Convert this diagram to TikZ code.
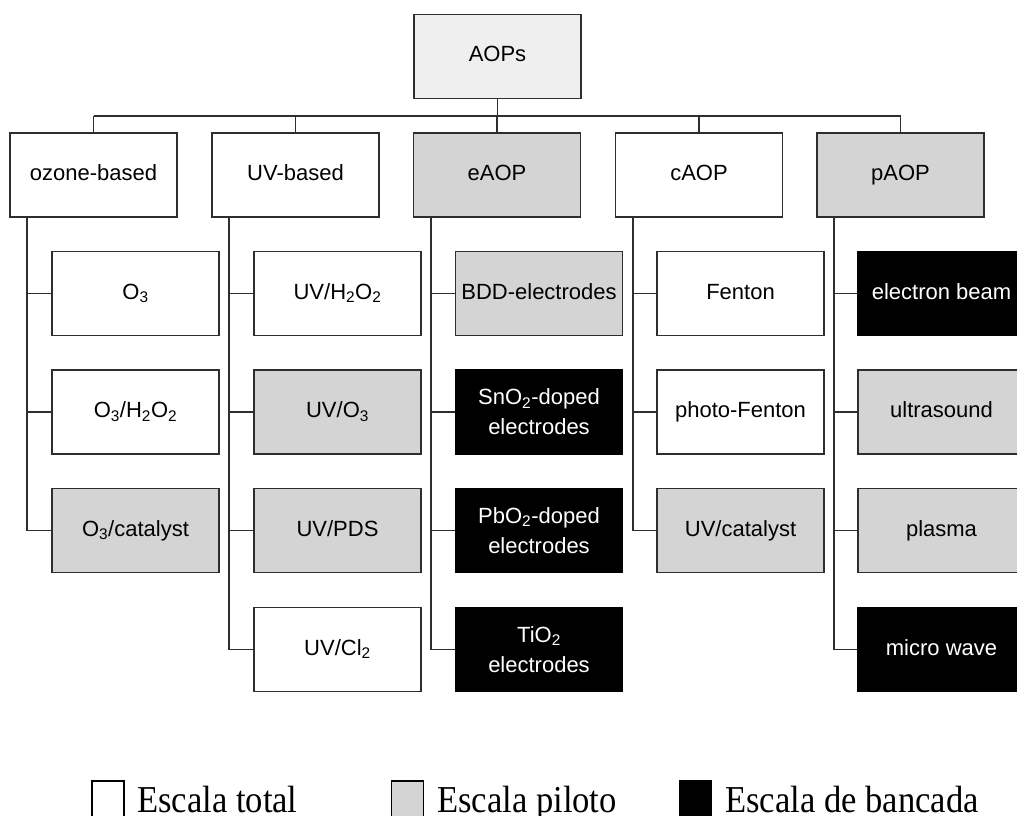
\documentclass[tikz,border=0pt]{standalone}
\usepackage{fontspec}
\setmainfont{Liberation Sans}
\newfontfamily\legserif{Liberation Serif}
\definecolor{linec}{HTML}{2E2E2E}
\definecolor{boxgray}{HTML}{D4D4D4}
\definecolor{topgray}{HTML}{EFEFEF}
\tikzset{
  basebox/.style={draw=linec, line width=1.6pt, minimum width=167pt, minimum height=84pt,
    inner sep=0pt, align=center, font=\fontsize{22}{30}\selectfont},
  box/.style={basebox, text height=16pt, text depth=5pt},
  wbox/.style={box, fill=white},
  gbox/.style={box, fill=boxgray},
  kbox/.style={box, fill=black, draw=black, text=white},
  kboxtwo/.style={basebox, fill=black, draw=black, text=white},
  conn/.style={draw=linec, line width=1.6pt},
  legsq/.style={draw=black, line width=1.6pt, minimum width=32pt, minimum height=42pt, inner sep=0pt},
  legtxt/.style={anchor=base west, inner sep=0pt, font=\legserif\fontsize{38}{42}\selectfont},
}
\newcommand{\legtext}[1]{\scalebox{0.91}[1]{#1}}
\begin{document}
\begin{tikzpicture}[x=1pt, y=-1pt]
\useasboundingbox (0,0) rectangle (1017,816);
% root
\node[box, fill=topgray] (aops) at (497.5,56.5) {AOPs};
\coordinate (bus) at (0,116);
% level 1
\node[wbox] (oz) at (93.5,175) {ozone-based};
\node[wbox] (uv) at (295.5,175) {UV-based};
\node[gbox] (ea) at (497,175) {eAOP};
\node[wbox] (ca) at (699,175) {cAOP};
\node[gbox] (pa) at (900.5,175) {pAOP};
% trunks
\coordinate (toz) at (27,217);
\coordinate (tuv) at (229,217);
\coordinate (tea) at (431,217);
\coordinate (tca) at (633,217);
\coordinate (tpa) at (834,217);
% children: ozone
\node[wbox] (oz1) at (135.5,293.5) {O\textsubscript{3}};
\node[wbox] (oz2) at (135.5,412) {O\textsubscript{3}/H\textsubscript{2}O\textsubscript{2}};
\node[gbox] (oz3) at (135.5,530.5) {O\textsubscript{3}/catalyst};
% UV
\node[wbox] (uv1) at (337.5,293.5) {UV/H\textsubscript{2}O\textsubscript{2}};
\node[gbox] (uv2) at (337.5,412) {UV/O\textsubscript{3}};
\node[gbox] (uv3) at (337.5,530.5) {UV/PDS};
\node[wbox] (uv4) at (337.5,649.5) {UV/Cl\textsubscript{2}};
% eAOP
\node[gbox] (ea1) at (539,293.5) {BDD-electrodes};
\node[kboxtwo] (ea2) at (539,412) {SnO\textsubscript{2}-doped\\electrodes};
\node[kboxtwo] (ea3) at (539,530.5) {PbO\textsubscript{2}-doped\\electrodes};
\node[kboxtwo] (ea4) at (539,649.5) {TiO\textsubscript{2}\\electrodes};
% cAOP
\node[wbox] (ca1) at (740.5,293.5) {Fenton};
\node[wbox] (ca2) at (740.5,412) {photo-Fenton};
\node[gbox] (ca3) at (740.5,530.5) {UV/catalyst};
% pAOP
\node[kbox] (pa1) at (941.5,293.5) {electron beam};
\node[gbox] (pa2) at (941.5,412) {ultrasound};
\node[gbox] (pa3) at (941.5,530.5) {plasma};
\node[kbox] (pa4) at (941.5,649.5) {micro wave};
% connectors
\draw[conn] (aops.south) -- (aops.south |- bus);
\draw[conn] (oz.north |- bus) -- (pa.north |- bus);
\foreach \p in {oz,uv,ea,ca,pa} \draw[conn] (\p.north) -- (\p.north |- bus);
\draw[conn] (toz) |- (oz3.west);
\foreach \c in {oz1,oz2} \draw[conn] (\c.west) -- (\c.west -| toz);
\draw[conn] (tuv) |- (uv4.west);
\foreach \c in {uv1,uv2,uv3} \draw[conn] (\c.west) -- (\c.west -| tuv);
\draw[conn] (tea) |- (ea4.west);
\foreach \c in {ea1,ea2,ea3} \draw[conn] (\c.west) -- (\c.west -| tea);
\draw[conn] (tca) |- (ca3.west);
\foreach \c in {ca1,ca2} \draw[conn] (\c.west) -- (\c.west -| tca);
\draw[conn] (tpa) |- (pa4.west);
\foreach \c in {pa1,pa2,pa3} \draw[conn] (\c.west) -- (\c.west -| tpa);
% legend
\node[legsq, fill=white] (lg1) at (108,802) {};
\node[legsq, fill=boxgray] (lg2) at (407.5,802) {};
\node[legsq, fill=black] (lg3) at (695.5,802) {};
\node[legtxt] (lt1) at (137,812) {\legtext{Escala total}};
\node[legtxt] (lt2) at (437,812) {\legtext{Escala piloto}};
\node[legtxt] (lt3) at (725,812) {\legtext{Escala de bancada}};
\end{tikzpicture}
\end{document}
